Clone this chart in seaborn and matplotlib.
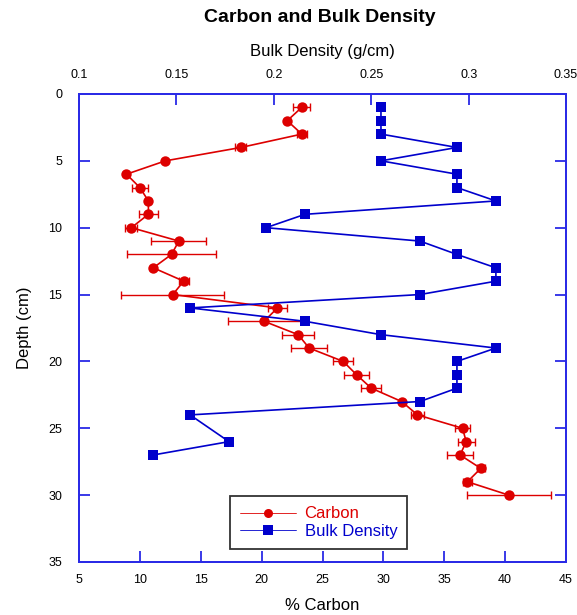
import numpy as np
import pandas as pd
import matplotlib
matplotlib.use("Agg")
import matplotlib.pyplot as plt
import seaborn as sns
from matplotlib.lines import Line2D

# ---- data ----
carbon_depth = [1, 2, 3, 4, 5, 6, 7, 8, 9, 10, 11, 12, 13, 14, 15,
                16, 17, 18, 19, 20, 21, 22, 23, 24, 25, 26, 27, 28, 29, 30]
carbon_pct = [23.3, 22.1, 23.3, 18.3, 12.1, 8.9, 10.0, 10.7, 10.7, 9.3,
              13.2, 12.6, 11.1, 13.6, 12.7, 21.3, 20.2, 23.0, 23.9, 26.7,
              27.8, 29.0, 31.5, 32.8, 36.5, 36.8, 36.3, 38.0, 36.9, 40.3]
carbon_err = [0.7, 0.0, 0.4, 0.45, 0.0, 0.0, 0.65, 0.0, 0.75, 0.5,
              2.25, 3.65, 0.0, 0.4, 4.25, 0.75, 3.0, 1.3, 1.45, 0.8,
              1.0, 0.8, 0.0, 0.5, 0.6, 0.7, 1.1, 0.35, 0.35, 3.45]

bd_depth = [1, 2, 3, 4, 5, 6, 7, 8, 9, 10, 11, 12, 13, 14, 15, 16,
            17, 18, 19, 20, 21, 22, 23, 24, 26, 27]
bd_value = [0.255, 0.255, 0.255, 0.294, 0.255, 0.294, 0.294, 0.314, 0.216,
            0.196, 0.275, 0.294, 0.314, 0.314, 0.275, 0.157, 0.216, 0.255,
            0.314, 0.294, 0.294, 0.294, 0.275, 0.157, 0.177, 0.138]

carbon_ticks = [5, 10, 15, 20, 25, 30, 35, 40, 45]
bd_ticks = [0.1, 0.15, 0.2, 0.25, 0.3, 0.35]
bd_ticklabels = ["0.1", "0.15", "0.2", "0.25", "0.3", "0.35"]
depth_ticks = [0, 5, 10, 15, 20, 25, 30, 35]

df_c = pd.DataFrame({"depth": carbon_depth, "carbon": carbon_pct, "err": carbon_err})
df_b = pd.DataFrame({"depth": bd_depth, "bd": bd_value})

RED = "#dd0000"
BLUE = "#0000cc"
SPINE = "#2a2ae6"

sns.set_style("white")
plt.rcParams["font.family"] = ["Liberation Sans", "DejaVu Sans"]
plt.rcParams["text.color"] = "black"
plt.rcParams["axes.labelcolor"] = "black"

fig = plt.figure(figsize=(5.77, 6.15), dpi=100)
ax = fig.add_axes([0.1369, 0.0862, 0.8441, 0.761])

# carbon
ax.errorbar(df_c["carbon"], df_c["depth"], xerr=df_c["err"], fmt="none",
            ecolor=RED, elinewidth=1.0, capsize=3, capthick=1.0, zorder=2)
sns.lineplot(data=df_c, x="carbon", y="depth", sort=False, estimator=None,
             color=RED, linewidth=1.2, marker="o", markersize=7.5,
             markeredgewidth=0, ax=ax, zorder=3)

ax.set_xlim(5, 45)
ax.set_ylim(35, 0)
ax.set_xticks(carbon_ticks)
ax.set_yticks(depth_ticks)
ax.set_xlabel("% Carbon", fontsize=12, labelpad=8)
ax.set_ylabel("Depth (cm)", fontsize=12, labelpad=12)

# bulk density on top axis
ax2 = ax.twiny()
sns.lineplot(data=df_b, x="bd", y="depth", sort=False, estimator=None,
             color=BLUE, linewidth=1.2, marker="s", markersize=7.5,
             markeredgewidth=0, ax=ax2, zorder=3)
ax2.set_xlim(0.1, 0.35)
ax2.set_ylim(35, 0)
ax2.set_xticks(bd_ticks)
ax2.set_xticklabels(bd_ticklabels)
ax2.set_xlabel("Bulk Density (g/cm)", fontsize=12, labelpad=10)
ax2.set_ylabel("")

for a in (ax, ax2):
    for s in a.spines.values():
        s.set_color(SPINE)
        s.set_linewidth(1.3)

ax.tick_params(axis="x", direction="in", length=8, width=1.3, color=SPINE,
               labelcolor="black", labelsize=9, pad=9, bottom=True, top=False)
ax.tick_params(axis="y", direction="in", length=8, width=1.3, color=SPINE,
               labelcolor="black", labelsize=9, pad=12, left=True, right=True)
ax2.tick_params(axis="x", direction="in", length=8, width=1.3, color=SPINE,
                labelcolor="black", labelsize=9, pad=9, top=True, bottom=False)

fig.suptitle("Carbon and Bulk Density", fontsize=14, fontweight="bold",
             y=0.985, x=0.555, color="black")

handles = [
    Line2D([0], [0], color=RED, lw=0.6, marker="o", markersize=6.5, markeredgewidth=0),
    Line2D([0], [0], color=BLUE, lw=0.6, marker="s", markersize=6.5, markeredgewidth=0),
]
leg = ax.legend(handles, ["Carbon", "Bulk Density"], loc="upper left",
                bbox_to_anchor=(0.292, 0.158), fontsize=12, frameon=True,
                fancybox=False, edgecolor="black", handlelength=3.4,
                borderpad=0.6, labelspacing=0.15, handletextpad=0.5)
leg.get_frame().set_linewidth(1.3)
for t, c in zip(leg.get_texts(), [RED, BLUE]):
    t.set_color(c)

fig.savefig("out.png", dpi=100)
